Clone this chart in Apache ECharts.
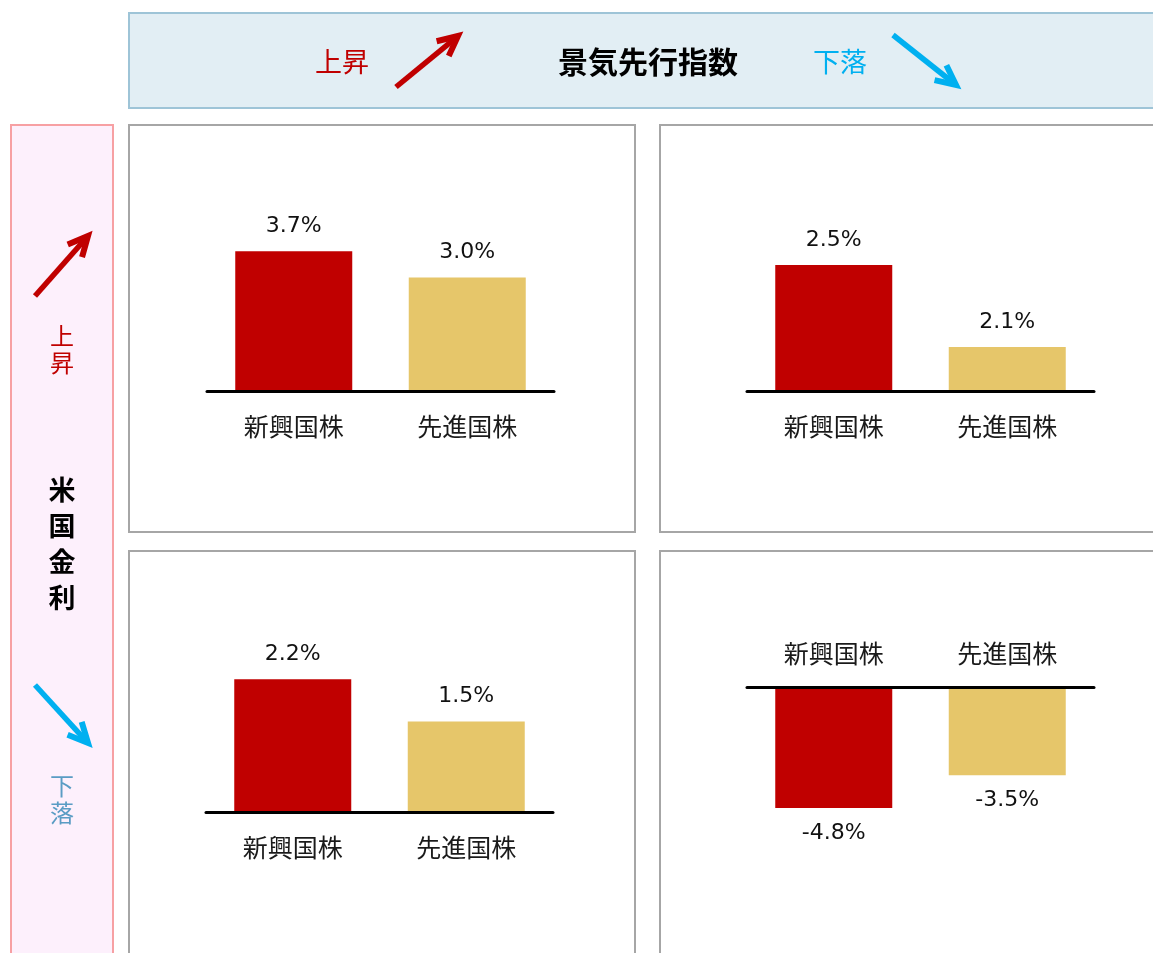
<!DOCTYPE html>
<html>
<head>
<meta charset="utf-8">
<script src="https://cdn.jsdelivr.net/npm/echarts@6/dist/echarts.min.js"></script>
<style>
  html, body { margin: 0; padding: 0; background: #fff; }
  #main { width: 1153px; height: 953px; }
</style>
</head>
<body>
<div id="main"></div>
<script>
// categories shared by every panel
var categories = ['新興国株', '先進国株'];

// returns by panel (米国金利 x 景気先行指数)
var rateUpLeadUp = [3.7, 3.0];
var rateUpLeadDown = [2.5, 2.1];
var rateDownLeadUp = [2.2, 1.5];
var rateDownLeadDown = [-4.8, -3.5];

var barColors = ['#c00000', '#e6c66a'];
var FONT = '"Noto Sans CJK JP", "Noto Sans", sans-serif';
var NUMFONT = '"DejaVu Sans", sans-serif';

// panel layout: axis line x-range, zero line y, pixels per 1%, axis range
var panels = [
    { data: rateUpLeadUp, left: 207, right: 554, base: 391, ppu: 37.8, min: 0, max: 4 },
    { data: rateUpLeadDown, left: 747, right: 1094, base: 391, ppu: 204.9, min: 1.885, max: 2.6 },
    { data: rateDownLeadUp, left: 206, right: 553, base: 812, ppu: 60.3, min: 0, max: 2.5 },
    { data: rateDownLeadDown, left: 747, right: 1094, base: 687, ppu: 25.2, min: -5, max: 0, down: true }
];

var grids = [], xAxes = [], yAxes = [], series = [];
panels.forEach(function (p, i) {
    var h = (p.max - p.min) * p.ppu;
    grids.push({
        left: p.left,
        width: p.right - p.left,
        top: p.down ? p.base : p.base - h,
        height: h
    });
    xAxes.push({
        type: 'category',
        gridIndex: i,
        data: categories,
        position: p.down ? 'top' : 'bottom',
        z: 10,
        axisLine: { onZero: false, lineStyle: { color: '#000', width: 3 } },
        axisTick: { show: false },
        axisLabel: { color: '#1a1a1a', fontSize: 25, fontFamily: FONT, margin: p.down ? 21 : 23 }
    });
    yAxes.push({
        type: 'value',
        gridIndex: i,
        min: p.min,
        max: p.max,
        show: false,
        splitLine: { show: false }
    });
    series.push({
        type: 'bar',
        xAxisIndex: i,
        yAxisIndex: i,
        barWidth: 117,
        clip: true,
        data: p.data.map(function (v, j) {
            return { value: v, itemStyle: { color: barColors[j] } };
        }),
        label: {
            show: true,
            position: p.down ? 'bottom' : 'top',
            distance: 14,
            color: '#111',
            fontSize: 22,
            fontFamily: NUMFONT,
            formatter: function (d) { return d.value.toFixed(1) + '%'; }
        }
    });
});

function arrow(x1, y1, x2, y2, color) {
    var dx = x2 - x1, dy = y2 - y1;
    var len = Math.sqrt(dx * dx + dy * dy);
    var ux = dx / len, uy = dy / len;
    var hl = 22, a = Math.PI / 7;
    function rot(ang) {
        var c = Math.cos(ang), s = Math.sin(ang);
        return [x2 - hl * (ux * c - uy * s), y2 - hl * (ux * s + uy * c)];
    }
    return [
        { type: 'polyline', z: 5, shape: { points: [[x1, y1], [x2 - ux * 4, y2 - uy * 4]] },
          style: { stroke: color, lineWidth: 5.5, fill: null } },
        { type: 'polyline', z: 5, shape: { points: [rot(a), [x2, y2], rot(-a)] },
          style: { stroke: color, lineWidth: 6, fill: null, lineJoin: 'miter' } }
    ];
}

function txt(x, y, text, color, size, bold, lh) {
    return {
        type: 'text', z: 5, x: x, y: y,
        style: {
            text: text, fill: color, fontSize: size, fontFamily: FONT,
            fontWeight: bold ? 'bold' : 'normal', align: 'center', verticalAlign: 'middle',
            lineHeight: lh || size
        }
    };
}

function box(x, y, w, h, fill, stroke) {
    return { type: 'rect', z: -10, silent: true, shape: { x: x, y: y, width: w, height: h },
             style: { fill: fill, stroke: stroke, lineWidth: 2 } };
}

var graphics = [
    box(129, 13, 1040, 95, '#e2eef4', '#9ec4d7'),
    box(11, 125, 102, 850, '#fdf0fc', '#f7a0a3'),
    box(129, 125, 506, 407, '#fff', '#a6a6a6'),
    box(660, 125, 520, 407, '#fff', '#a6a6a6'),
    box(129, 551, 506, 430, '#fff', '#a6a6a6'),
    box(660, 551, 520, 430, '#fff', '#a6a6a6'),
    txt(342, 62, '上昇', '#c00000', 27),
    txt(648, 62, '景気先行指数', '#000', 30, true),
    txt(840, 62, '下落', '#00b0f0', 27),
    txt(62, 349, '上\n昇', '#c00000', 24, false, 27),
    txt(62, 544, '米\n国\n金\n利', '#000', 27, true, 36),
    txt(62, 799, '下\n落', '#5a9cc4', 24, false, 27)
];
graphics = graphics
    .concat(arrow(396, 87, 458, 36, '#c00000'))
    .concat(arrow(893, 35, 956, 85, '#00b0f0'))
    .concat(arrow(35, 296, 88, 236, '#c00000'))
    .concat(arrow(35, 685, 88, 743, '#00b0f0'));

var myChart = echarts.init(document.getElementById('main'));
var option = {
    animation: false,
    backgroundColor: '#fff',
    graphic: graphics,
    grid: grids,
    xAxis: xAxes,
    yAxis: yAxes,
    series: series
};
myChart.setOption(option);
</script>
</body>
</html>
